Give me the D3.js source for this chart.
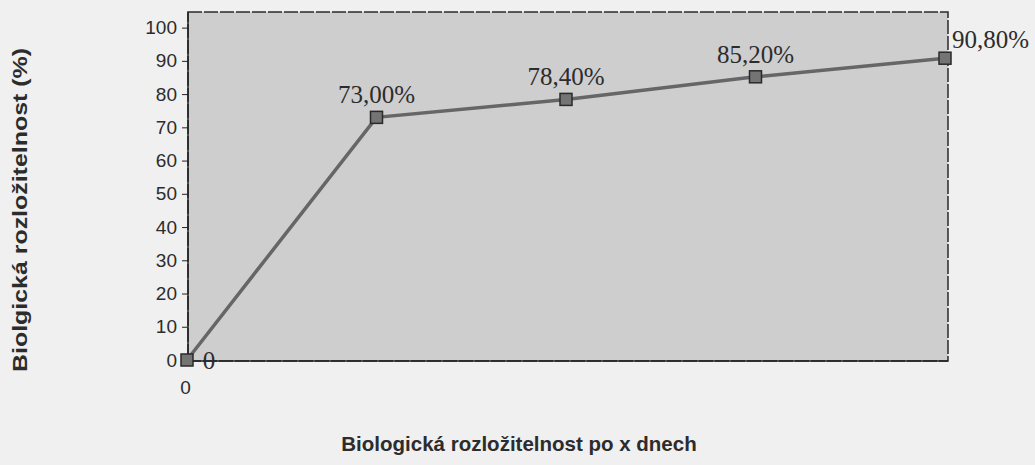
<!DOCTYPE html>
<html><head><meta charset="utf-8">
<script src="https://cdn.jsdelivr.net/npm/d3@7"></script>
<style>body{margin:0;background:#eff0ef;}svg{display:block;}</style>
</head><body>
<svg id="c" width="1035" height="465"></svg>
<script>
const categories = [0, 1, 2, 3, 4];
const xTickLabels = ["0", "", "", "", ""];
const values = [0, 73.0, 78.4, 85.2, 90.8];
const pointLabels = ["0", "73,00%", "78,40%", "85,20%", "90,80%"];
const yTicks = [0, 10, 20, 30, 40, 50, 60, 70, 80, 90, 100];
const yTitle = "Biolgická rozložitelnost (%)";
const xTitle = "Biologická rozložitelnost po x dnech";

const svg = d3.select("#c");
const L = 188, R = 948, T = 12, B = 361;
const x = d3.scaleLinear().domain([0, 4]).range([187, 945]);
const y = d3.scaleLinear().domain([0, 105]).range([360, 11]);

svg.append("rect").attr("x", L).attr("y", T).attr("width", R - L).attr("height", B - T)
  .attr("fill", "#cececf").attr("stroke", "#2a2a2a").attr("stroke-width", 1.5).attr("stroke-dasharray", "14,2");

const ya = svg.append("g").attr("transform", `translate(${L},0)`)
  .call(d3.axisLeft(y).tickValues(yTicks).tickSize(6).tickPadding(5));
ya.select(".domain").attr("stroke", "#222").attr("stroke-width", 1.5).attr("d", `M0,${T}V${B}`);
ya.selectAll(".tick line").attr("stroke", "#222");
ya.selectAll("text").attr("font-family", "Liberation Sans, Arial").attr("font-size", 19).attr("fill", "#2c2c2c");

const xa = svg.append("g").attr("transform", `translate(0,${B})`)
  .call(d3.axisBottom(x).tickValues(categories).tickFormat((d, i) => xTickLabels[i]).tickSize(0).tickPadding(20));
xa.select(".domain").attr("stroke", "#222").attr("stroke-width", 1.5).attr("d", `M${L},0H${R}`);
xa.selectAll("text").attr("font-family", "Liberation Sans, Arial").attr("font-size", 19).attr("fill", "#2c2c2c")
  .attr("dx", -2);

const line = d3.line().x((d, i) => x(categories[i])).y(d => y(d));
svg.append("path").datum(values).attr("d", line).attr("fill", "none")
  .attr("stroke", "#666").attr("stroke-width", 3.5);

svg.selectAll(".mk").data(values).enter().append("rect")
  .attr("x", (d, i) => x(categories[i]) - 6).attr("y", d => y(d) - 6)
  .attr("width", 12).attr("height", 12).attr("fill", "#747474").attr("stroke", "#2a2a2a").attr("stroke-width", 1.5);

svg.selectAll(".pl").data(values).enter().append("text")
  .attr("x", (d, i) => i === 0 ? x(categories[i]) + 22 : (i === 4 ? x(categories[i]) + 7 : x(categories[i])))
  .attr("y", (d, i) => i === 0 ? y(d) + 9 : (i === 4 ? y(d) - 10 : y(d) - 14))
  .attr("text-anchor", (d, i) => i === 0 ? "middle" : (i === 4 ? "start" : "middle"))
  .attr("font-family", "Liberation Serif, Times New Roman").attr("font-size", 25).attr("fill", "#2c2c2c")
  .text((d, i) => pointLabels[i]);

svg.append("text").attr("transform", "translate(27,210) rotate(-90)").attr("text-anchor", "middle")
  .attr("font-family", "Liberation Sans, Arial").attr("font-weight", "bold").attr("font-size", 20)
  .attr("textLength", 324).attr("lengthAdjust", "spacingAndGlyphs").attr("fill", "#2c2c2c")
  .text(yTitle);
svg.append("text").attr("x", 519).attr("y", 451).attr("text-anchor", "middle")
  .attr("font-family", "Liberation Sans, Arial").attr("font-weight", "bold").attr("font-size", 20.5).attr("fill", "#2c2c2c")
  .text(xTitle);
</script>
</body></html>
